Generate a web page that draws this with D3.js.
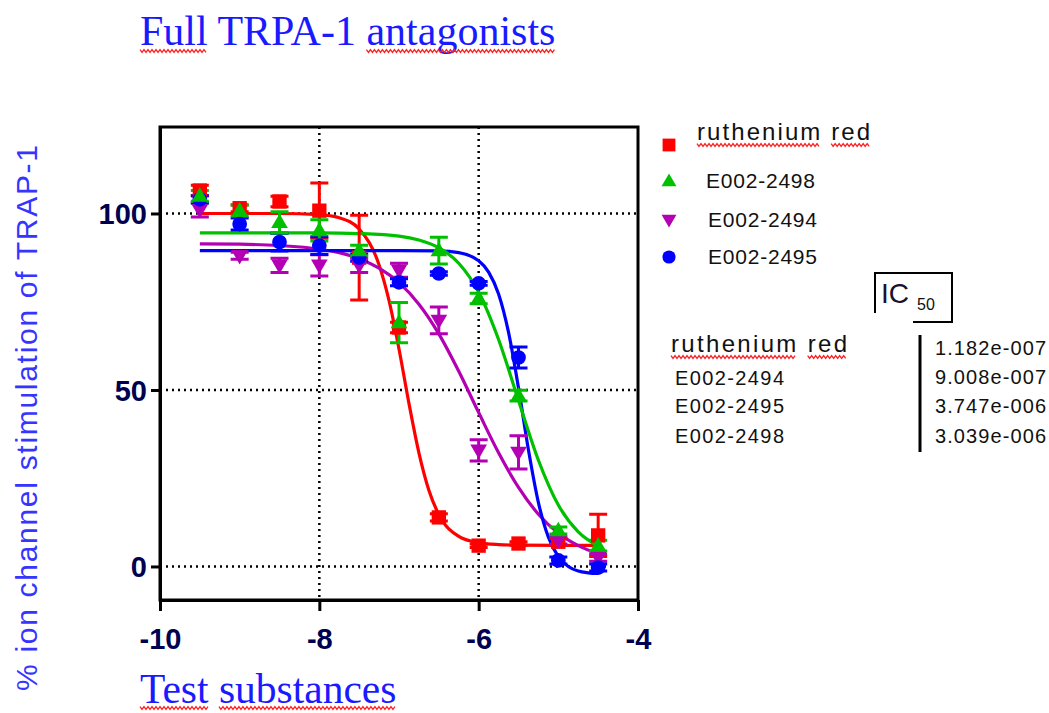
<!DOCTYPE html>
<html>
<head>
<meta charset="utf-8">
<script src="https://cdn.jsdelivr.net/npm/d3@7"></script>
<style>
  body { margin: 0; background: #fff; }
  svg { display: block; }
</style>
</head>
<body>
<div class="svg-container"></div>
<script>
// log concentration (M) of the test substances
const logDose = [-9.5, -9, -8.5, -8, -7.5, -7, -6.5, -6, -5.5, -5, -4.5];

// measured points, % of TRAP-1 stimulation (mean and SEM)
const rutheniumMean = [106.5, 101.5, 103.4, 100.8, 87.5, 67.7, 13.9, 5.9, 6.5, 7.0, 8.8];
const rutheniumSem = [1.5, 1.0, 1.5, 7.8, 12.0, 1.5, 1.0, 0.5, 0.5, 1.0, 6.0];
const e2498Mean = [105.0, 100.8, 97.5, 95.2, 89.5, 69.1, 89.5, 75.9, 48.4, 10.2, 5.9];
const e2498Sem = [1.5, 1.5, 3.0, 3.0, 1.5, 5.7, 3.8, 1.5, 1.5, 1.0, 1.5];
const e2494Mean = [101.0, 88.0, 85.3, 85.3, 85.3, 83.9, 69.7, 32.9, 32.3, 7.4, 2.5];
const e2494Sem = [2.0, 1.0, 2.0, 3.0, 2.0, 2.0, 3.8, 3.0, 4.7, 1.0, 1.0];
const e2495Mean = [104.0, 97.0, 91.9, 90.9, 87.5, 80.5, 83.0, 80.2, 59.2, 1.7, -0.3];
const e2495Sem = [1.0, 1.7, 2.5, 2.5, 1.0, 1.0, 0.5, 0.5, 3.0, 1.0, 1.0];

// fitted curves
const rutheniumFitX = [-9.5, -9, -8.5, -8, -7.75, -7.5, -7.25, -7.125, -7, -6.875, -6.75, -6.625, -6.5, -6.25, -6, -5.75, -5.5, -5, -4.5];
const rutheniumFitY = [100, 100, 100, 99.7, 98.8, 95.6, 85.4, 75.3, 61.6, 46.2, 32.2, 21.6, 14.7, 8.5, 6.7, 6.2, 6.05, 6.0, 6.0];
const e2498FitX = [-9.5, -9, -8.5, -8, -7.5, -7, -6.75, -6.5, -6.25, -6, -5.75, -5.5, -5.25, -5, -4.75, -4.5];
const e2498FitY = [94.5, 94.5, 94.5, 94.5, 94.3, 93.6, 92.5, 90.3, 85.9, 77.7, 64.3, 47.0, 30.1, 17.4, 9.8, 5.8];
const e2494FitX = [-9.5, -9, -8.5, -8, -7.75, -7.5, -7.25, -7, -6.75, -6.5, -6.25, -6, -5.75, -5.5, -5.25, -5, -4.75, -4.5];
const e2494FitY = [91.4, 91.3, 90.9, 89.9, 88.9, 87.2, 84.5, 80.4, 74.3, 65.9, 55.3, 43.6, 32.2, 22.4, 14.8, 9.4, 5.9, 3.6];
const e2495FitX = [-9.5, -9, -8.5, -8, -7.5, -7, -6.5, -6.25, -6, -5.875, -5.75, -5.625, -5.5, -5.375, -5.25, -5.125, -5, -4.875, -4.75, -4.625, -4.5];
const e2495FitY = [89.5, 89.5, 89.5, 89.5, 89.5, 89.5, 89.4, 88.9, 86.6, 83.4, 77.2, 66.3, 50.6, 33.0, 18.1, 8.3, 2.8, 0.0, -1.3, -1.8, -2.0];

const xTicks = [-10, -8, -6, -4];
const yTicks = [0, 50, 100];
const xGrid = [-8, -6];

const legendNames = ['ruthenium red', 'E002-2498', 'E002-2494', 'E002-2495'];
const tableNames = ['ruthenium red', 'E002-2494', 'E002-2495', 'E002-2498'];
const ic50Labels = ['1.182e-007', '9.008e-007', '3.747e-006', '3.039e-006'];

const width = 1049;
const height = 713;
const sans = '"Liberation Sans", Arial, sans-serif';
const serif = '"Liberation Serif", "Times New Roman", serif';

const svg = d3.select('.svg-container')
.append('svg')
.attr('width', width)
.attr('height', height);

const x = d3.scaleLinear().domain([-10, -4]).range([160, 638]);
const y = d3.scaleLinear().domain([-9.5, 124.5]).range([600, 127]);

const series = [
  { name: 'ruthenium red', color: '#ff0000', symbol: d3.symbolSquare, size: 205, rot: 0,
    mean: rutheniumMean, sem: rutheniumSem, fitX: rutheniumFitX, fitY: rutheniumFitY },
  { name: 'E002-2494', color: '#b400b4', symbol: d3.symbolTriangle, size: 120, rot: 180,
    mean: e2494Mean, sem: e2494Sem, fitX: e2494FitX, fitY: e2494FitY },
  { name: 'E002-2495', color: '#0000ff', symbol: d3.symbolCircle, size: 170, rot: 0,
    mean: e2495Mean, sem: e2495Sem, fitX: e2495FitX, fitY: e2495FitY },
  { name: 'E002-2498', color: '#00c000', symbol: d3.symbolTriangle, size: 120, rot: 0,
    mean: e2498Mean, sem: e2498Sem, fitX: e2498FitX, fitY: e2498FitY }
];

// spell-check style squiggle under a range of characters
function squiggle(textSel, from, to, yy) {
  const node = textSel.node();
  const x0 = node.getStartPositionOfChar(from).x;
  const x1 = node.getEndPositionOfChar(to).x;
  const pts = [];
  for (let xx = x0, i = 0; xx <= x1; xx += 2, i++) pts.push([xx, yy + (i % 2 ? 1.4 : -1.4)]);
  d3.select(node.parentNode).append('path')
  .attr('d', d3.line()(pts))
  .attr('fill', 'none')
  .attr('stroke', '#ff2020')
  .attr('stroke-width', 1.3);
}

// title
const title = svg.append('text')
.attr('x', 140)
.attr('y', 45)
.style('font-family', serif)
.style('font-size', '42px')
.attr('fill', '#1a1aff')
.text('Full TRPA-1 antagonists');
squiggle(title, 0, 3, 51);
squiggle(title, 12, 22, 51);

// grid
const grid = svg.append('g')
.attr('stroke', '#000')
.attr('stroke-width', 2.5)
.attr('stroke-dasharray', '2,4');

grid.selectAll('.hgrid')
.data(yTicks)
.enter()
.append('line')
.attr('x1', x(-10) + 6)
.attr('x2', x(-4))
.attr('y1', d => y(d))
.attr('y2', d => y(d));

grid.selectAll('.vgrid')
.data(xGrid)
.enter()
.append('line')
.attr('x1', d => x(d))
.attr('x2', d => x(d))
.attr('y1', y.range()[1])
.attr('y2', y.range()[0]);

// fitted curves
const line = d3.line()
.x(d => x(d[0]))
.y(d => y(d[1]))
.curve(d3.curveMonotoneX);

series.forEach(s => {
  svg.append('path')
  .datum(s.fitX.map((v, i) => [v, s.fitY[i]]))
  .attr('d', line)
  .attr('fill', 'none')
  .attr('stroke', s.color)
  .attr('stroke-width', 3.2);
});

// error bars
series.forEach(s => {
  const g = svg.append('g')
  .attr('stroke', s.color)
  .attr('stroke-width', 3);
  const pts = logDose.map((v, i) => ({ x: v, m: s.mean[i], e: s.sem[i] }));
  g.selectAll('.bar')
  .data(pts)
  .enter()
  .append('path')
  .attr('fill', 'none')
  .attr('d', d => {
    const cx = x(d.x);
    const top = y(d.m + d.e);
    const bot = y(d.m - d.e);
    return `M${cx - 9},${top}H${cx + 9}M${cx},${top}V${bot}M${cx - 9},${bot}H${cx + 9}`;
  });
});

// markers
series.forEach(s => {
  const sym = d3.symbol().type(s.symbol).size(s.size);
  svg.append('g')
  .selectAll('path')
  .data(logDose.map((v, i) => [v, s.mean[i]]))
  .enter()
  .append('path')
  .attr('d', sym)
  .attr('fill', s.color)
  .attr('transform', d => `translate(${x(d[0])},${y(d[1]) + (s.symbol === d3.symbolTriangle ? (s.rot ? -1 : 1) : 0)}) rotate(${s.rot})`);
});

// frame
svg.append('rect')
.attr('x', x(-10))
.attr('y', y.range()[1])
.attr('width', x(-4) - x(-10))
.attr('height', y.range()[0] - y.range()[1])
.attr('fill', 'none')
.attr('stroke', '#000')
.attr('stroke-width', 3);

// axes
const xAxis = d3.axisBottom(x).tickValues(xTicks).tickSize(11).tickSizeOuter(0).tickFormat(d => String(d));
const yAxis = d3.axisLeft(y).tickValues(yTicks).tickSize(9).tickSizeOuter(0).tickFormat(d => String(d));

const gx = svg.append('g')
.attr('transform', `translate(0, ${y.range()[0]})`)
.call(xAxis);

const gy = svg.append('g')
.attr('transform', `translate(${x(-10)}, 0)`)
.call(yAxis);

[gx, gy].forEach(g => {
  g.select('.domain').attr('stroke-width', 3);
  g.selectAll('.tick line').attr('stroke-width', 3);
  g.selectAll('.tick text')
  .style('font-family', sans)
  .style('font-size', '29px')
  .style('font-weight', 'bold')
  .attr('fill', '#000050');
});
gx.selectAll('.tick text').attr('y', 28).attr('dy', '0.71em');
gy.selectAll('.tick text').attr('x', -13).attr('dy', '0.36em');

// axis titles
svg.append('text')
.attr('transform', 'translate(37, 418) rotate(-90)')
.attr('text-anchor', 'middle')
.attr('textLength', 546)
.attr('lengthAdjust', 'spacing')
.style('font-family', sans)
.style('font-size', '30px')
.attr('fill', '#3535ff')
.text('% ion channel stimulation of TRAP-1');

const xTitle = svg.append('text')
.attr('x', 140)
.attr('y', 703)
.style('font-family', serif)
.style('font-size', '41.5px')
.attr('fill', '#1a1aff')
.text('Test substances');
squiggle(xTitle, 0, 3, 708);
squiggle(xTitle, 5, 14, 708);

// legend
const legendOrder = [0, 3, 1, 2];
const legendRowY = [145, 182, 219, 257];
const legendTextY = [140, 188, 227, 264];
const legendTextX = [697, 706, 708, 708];

legendOrder.forEach((si, i) => {
  const s = series[si];
  const sym = d3.symbol().type(s.symbol).size(s.size * 0.8);
  const g = svg.append('g').attr('id', 'legend');
  g.append('path')
  .attr('d', sym)
  .attr('fill', s.color)
  .attr('transform', `translate(669, ${legendRowY[i]}) rotate(${s.rot})`);
  const t = g.append('text')
  .attr('x', legendTextX[i])
  .attr('y', legendTextY[i])
  .attr('textLength', i === 0 ? 173 : 109)
  .attr('lengthAdjust', 'spacing')
  .style('font-family', sans)
  .style('font-size', i === 0 ? '24px' : '21px')
  .attr('fill', '#111')
  .text(legendNames[i]);
  if (i === 0) {
    squiggle(t, 0, 8, 145);
    squiggle(t, 10, 12, 145);
  }
});

// IC50 table
const table = svg.append('g');
table.append('path')
.attr('d', 'M875,313V273H952V322H913')
.attr('fill', 'none')
.attr('stroke', '#000')
.attr('stroke-width', 2);
table.append('text')
.attr('x', 881)
.attr('y', 303)
.style('font-family', sans)
.style('font-size', '28px')
.attr('fill', '#1a1030')
.text('IC');
table.append('text')
.attr('x', 917)
.attr('y', 310)
.style('font-family', sans)
.style('font-size', '16px')
.attr('fill', '#111')
.text('50');

table.append('line')
.attr('x1', 920)
.attr('x2', 920)
.attr('y1', 335)
.attr('y2', 452)
.attr('stroke', '#000')
.attr('stroke-width', 3);

const rowY = [352, 385, 413, 443];
const valY = [355, 384, 413, 443];

tableNames.forEach((n, i) => {
  const t = table.append('text')
  .attr('x', i === 0 ? 671 : 675)
  .attr('y', rowY[i])
  .attr('textLength', i === 0 ? 176 : 109)
  .attr('lengthAdjust', 'spacing')
  .style('font-family', sans)
  .style('font-size', i === 0 ? '24px' : '20px')
  .attr('fill', '#111')
  .text(n);
  if (i === 0) {
    squiggle(t, 0, 8, 357);
    squiggle(t, 10, 12, 357);
  }
});

ic50Labels.forEach((v, i) => {
  table.append('text')
  .attr('x', 935)
  .attr('y', valY[i])
  .attr('textLength', 111)
  .attr('lengthAdjust', 'spacing')
  .style('font-family', sans)
  .style('font-size', '20px')
  .attr('fill', '#111')
  .text(v);
});
</script>
</body>
</html>
